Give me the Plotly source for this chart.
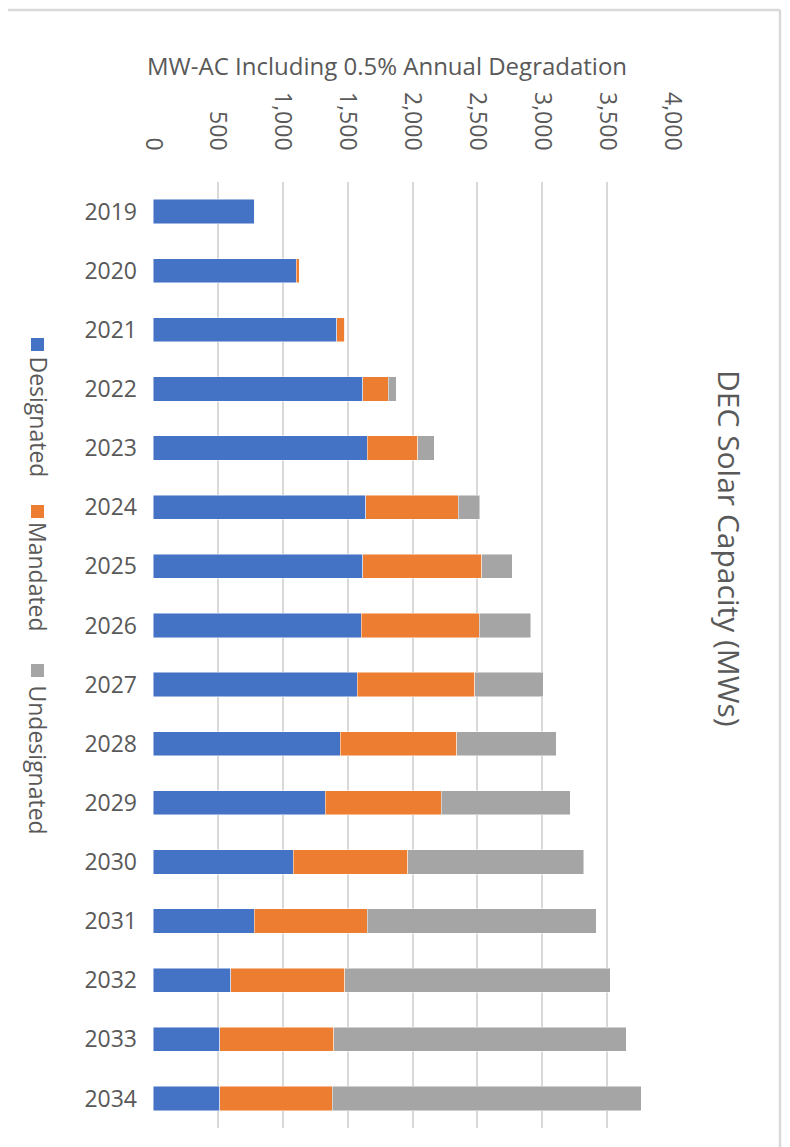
import plotly.graph_objects as go

years = ["2019", "2020", "2021", "2022", "2023", "2024", "2025", "2026",
         "2027", "2028", "2029", "2030", "2031", "2032", "2033", "2034"]
designated = [784, 1103, 1416, 1616, 1652, 1639, 1616, 1606,
              1576, 1445, 1328, 1079, 779, 600, 515, 515]
mandated = [0, 26, 60, 197, 387, 712, 917, 907,
            905, 895, 894, 884, 874, 878, 877, 867]
undesignated = [0, 0, 0, 62, 128, 169, 236, 397,
                528, 766, 992, 1358, 1763, 2045, 2254, 2380]
x_ticks = [0, 500, 1000, 1500, 2000, 2500, 3000, 3500, 4000]
x_tick_labels = ["0", "500", "1,000", "1,500", "2,000", "2,500", "3,000", "3,500", "4,000"]

series = [("Designated", designated, "#4472C4"),
          ("Mandated", mandated, "#ED7D31"),
          ("Undesignated", undesignated, "#A5A5A5")]

FONT = "Open Sans"
TXT = "#595959"

fig = go.Figure()
for name, vals, col in series:
    fig.add_trace(go.Bar(
        y=years, x=vals, name=name, orientation="h",
        marker=dict(color=col, line=dict(color="rgba(255,255,255,0.6)", width=0.8)),
        showlegend=False,
    ))

# page body adds an 8px offset; work in target-pixel coordinates
OFF = 8
W, H = 790 - OFF, 1147 - OFF
L, R, T, B = 153 - OFF, 118, 182 - OFF, 19
pw = W - L - R
ph = H - T - B

def px(x):
    return (x - OFF - L) / pw

def py(y):
    return (H - B - (y - OFF)) / ph

fig.update_layout(
    width=W, height=H,
    margin=dict(l=L, r=R, t=T, b=B, autoexpand=False),
    barmode="stack", bargap=0.59,
    plot_bgcolor="white", paper_bgcolor="white",
    font=dict(family=FONT, color=TXT),
    xaxis=dict(
        side="top", range=[0, 4000], tickvals=x_ticks, ticktext=x_tick_labels,
        tickangle=90, tickfont=dict(size=23, color=TXT, family=FONT),
        showgrid=True, gridcolor="#D9D9D9", gridwidth=2,
        zeroline=False, showline=False, ticks="", ticklabelstandoff=27,
    ),
    yaxis=dict(
        autorange="reversed", type="category",
        tickfont=dict(size=23, color=TXT, family=FONT),
        showgrid=False, zeroline=False, showline=False, ticks="",
        ticklabelstandoff=15,
    ),
)

annotations = [
    dict(text="MW-AC Including 0.5% Annual Degradation", x=px(387), y=py(66),
         xref="paper", yref="paper", showarrow=False, xanchor="center", yanchor="middle",
         font=dict(size=24, color=TXT, family=FONT)),
    dict(text="DEC Solar Capacity (MWs)", x=px(730), y=py(548), textangle=90,
         xref="paper", yref="paper", showarrow=False, xanchor="center", yanchor="middle",
         font=dict(size=30, color=TXT, family=FONT)),
]
# rotated legend: colour square + label
leg_square_tops = [338, 505, 664]
leg_text_tops = [354, 520, 683]
for (name, _, col), ys, yt in zip(series, leg_square_tops, leg_text_tops):
    fig.add_shape(type="rect", xref="paper", yref="paper",
                  x0=px(31), x1=px(44), y0=py(ys), y1=py(ys + 13),
                  fillcolor=col, line=dict(width=0))
    annotations.append(dict(
        text=name, x=px(38), y=py(yt),
        textangle=90, xref="paper", yref="paper", showarrow=False,
        xanchor="center", yanchor="top",
        font=dict(size=23, color=TXT, family=FONT)))
fig.update_layout(annotations=annotations)

fig.add_shape(type="line", xref="paper", yref="paper", x0=px(0), x1=px(780), y0=py(10), y1=py(10),
              line=dict(color="#D9D9D9", width=2.5))
fig.add_shape(type="line", xref="paper", yref="paper", x0=px(780), x1=px(780), y0=py(10), y1=py(1147),
              line=dict(color="#D9D9D9", width=2.5))

fig.write_html("out.html")
